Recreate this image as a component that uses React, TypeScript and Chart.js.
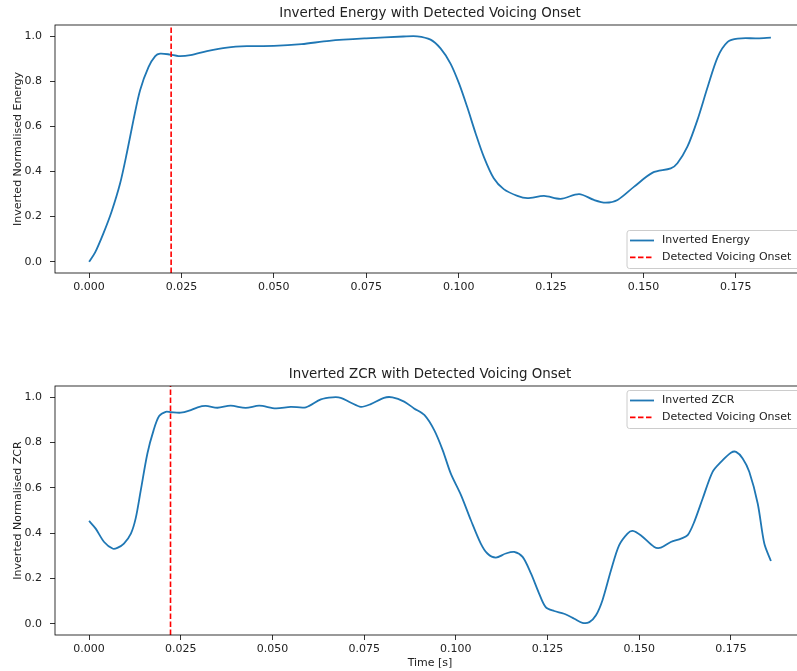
import React, { useEffect, useRef } from 'react';
import { Chart, registerables } from 'chart.js';

Chart.register(...registerables);

// ---------- data ----------
const energyTime = [0.0000, 0.0016, 0.0039, 0.0061, 0.0084, 0.0102, 0.0120, 0.0138, 0.0161, 0.0179, 0.0192, 0.0219, 0.0242, 0.0274, 0.0319, 0.0373, 0.0427, 0.0500, 0.0575, 0.0650, 0.0750, 0.0850, 0.0888, 0.0924, 0.0951, 0.0978, 0.1001, 0.1023, 0.1046, 0.1068, 0.1095, 0.1122, 0.1159, 0.1186, 0.1231, 0.1276, 0.1326, 0.1366, 0.1398, 0.1430, 0.1475, 0.1525, 0.1574, 0.1592, 0.1619, 0.1646, 0.1674, 0.1701, 0.1728, 0.1755, 0.1809, 0.1845];
const energyValues = [0.000, 0.040, 0.127, 0.223, 0.348, 0.481, 0.628, 0.761, 0.864, 0.912, 0.923, 0.919, 0.912, 0.916, 0.934, 0.950, 0.956, 0.957, 0.965, 0.980, 0.991, 0.999, 1.000, 0.985, 0.946, 0.879, 0.791, 0.687, 0.569, 0.466, 0.370, 0.322, 0.292, 0.282, 0.292, 0.279, 0.300, 0.274, 0.262, 0.274, 0.333, 0.395, 0.414, 0.437, 0.510, 0.628, 0.776, 0.908, 0.975, 0.990, 0.991, 0.994];

const zcrTime = [0.0000, 0.0018, 0.0041, 0.0064, 0.0077, 0.0095, 0.0114, 0.0127, 0.0141, 0.0159, 0.0176, 0.0191, 0.0209, 0.0223, 0.0250, 0.0273, 0.0296, 0.0318, 0.0350, 0.0386, 0.0427, 0.0464, 0.0509, 0.0550, 0.0591, 0.0632, 0.0664, 0.0686, 0.0714, 0.0741, 0.0768, 0.0804, 0.0827, 0.0859, 0.0886, 0.0914, 0.0941, 0.0964, 0.0986, 0.1014, 0.1041, 0.1068, 0.1086, 0.1109, 0.1136, 0.1159, 0.1182, 0.1205, 0.1227, 0.1245, 0.1268, 0.1295, 0.1323, 0.1345, 0.1364, 0.1382, 0.1400, 0.1423, 0.1445, 0.1468, 0.1482, 0.1504, 0.1541, 0.1559, 0.1586, 0.1614, 0.1632, 0.1650, 0.1673, 0.1700, 0.1723, 0.1750, 0.1764, 0.1782, 0.1800, 0.1823, 0.1841, 0.1859];
const zcrValues = [0.454, 0.420, 0.361, 0.332, 0.335, 0.354, 0.398, 0.465, 0.590, 0.752, 0.855, 0.917, 0.936, 0.934, 0.932, 0.941, 0.956, 0.962, 0.954, 0.963, 0.953, 0.963, 0.951, 0.958, 0.956, 0.991, 1.000, 0.998, 0.976, 0.958, 0.970, 0.998, 1.000, 0.981, 0.951, 0.922, 0.855, 0.767, 0.664, 0.568, 0.457, 0.354, 0.310, 0.292, 0.310, 0.317, 0.295, 0.221, 0.133, 0.073, 0.056, 0.044, 0.022, 0.004, 0.007, 0.037, 0.105, 0.236, 0.346, 0.398, 0.410, 0.391, 0.339, 0.336, 0.361, 0.376, 0.391, 0.450, 0.553, 0.671, 0.715, 0.755, 0.759, 0.730, 0.671, 0.531, 0.354, 0.277];

const onsetTime = 0.0222;
const xTicks = [0, 0.025, 0.05, 0.075, 0.1, 0.125, 0.15, 0.175];
const yTicks = [0, 0.2, 0.4, 0.6, 0.8, 1.0];

const BLUE = '#1f77b4';
const RED = '#ff0000';
const TEXT = '#222222';
const FONT = "'DejaVu Sans', sans-serif";
const CANVAS_W = 830;
const FS = 11;
const TITLE_FS = 13.4;

// ---------- decoration plugin (frame, title, legend) ----------
const decorPlugin = {
  id: 'mplDecor',
  afterDraw(chart: any, _args: any, opts: any) {
    const { ctx, chartArea: a } = chart;
    ctx.save();
    // frame (spines)
    ctx.strokeStyle = '#000';
    ctx.lineWidth = 0.8;
    ctx.strokeRect(a.left, a.top, a.right - a.left, a.bottom - a.top);
    // title
    ctx.fillStyle = TEXT;
    ctx.font = `${TITLE_FS}px ${FONT}`;
    ctx.textAlign = 'center';
    ctx.textBaseline = 'middle';
    ctx.fillText(opts.title, (a.left + a.right) / 2, a.top - 11);
    // legend
    const items = opts.legend as { label: string; color: string; dash: number[] }[];
    const w = 173;
    const h = 38;
    const x1 = a.right - 5 - w;
    const y1 = opts.legendPos === 'upper' ? a.top + 4.5 : a.bottom - 4.5 - h;
    ctx.beginPath();
    (ctx as any).roundRect(x1, y1, w, h, 2.5);
    ctx.fillStyle = 'rgba(255,255,255,0.8)';
    ctx.fill();
    ctx.strokeStyle = '#cccccc';
    ctx.lineWidth = 1;
    ctx.stroke();
    ctx.font = `${FS}px ${FONT}`;
    ctx.textAlign = 'left';
    items.forEach((it, i) => {
      const yy = y1 + 10 + i * 16.8;
      ctx.beginPath();
      ctx.setLineDash(it.dash);
      ctx.strokeStyle = it.color;
      ctx.lineWidth = 1.8;
      ctx.moveTo(x1 + 3, yy);
      ctx.lineTo(x1 + 27, yy);
      ctx.stroke();
      ctx.setLineDash([]);
      ctx.fillStyle = TEXT;
      ctx.fillText(it.label, x1 + 35, yy);
    });
    ctx.restore();
  },
};

type PanelProps = {
  times: number[];
  values: number[];
  seriesLabel: string;
  title: string;
  yLabel: string;
  xLabel?: string;
  legendPos: 'upper' | 'lower';
  height: number;
  padTop: number;
  padBottom: number;
  xAxisHeight: number;
};

function Panel(p: PanelProps) {
  const ref = useRef<HTMLCanvasElement | null>(null);
  useEffect(() => {
    if (!ref.current) return;
    const last = p.times[p.times.length - 1];
    const xMin = -0.05 * last;
    const xMax = last * 1.05;
    const pts = p.times.map((t, i) => ({ x: t, y: p.values[i] }));
    const chart = new Chart(ref.current, {
      type: 'line',
      data: {
        datasets: [
          {
            label: p.seriesLabel,
            data: pts,
            borderColor: BLUE,
            borderWidth: 1.8,
            pointRadius: 0,
            tension: 0.3,
            fill: false,
            order: 2,
          },
          {
            label: 'Detected Voicing Onset',
            data: [
              { x: onsetTime, y: -0.05 },
              { x: onsetTime, y: 1.05 },
            ],
            borderColor: RED,
            borderWidth: 1.6,
            borderDash: [5.5, 2.5],
            pointRadius: 0,
            tension: 0,
            fill: false,
            order: 1,
          },
        ],
      },
      options: {
        animation: false,
        responsive: false,
        devicePixelRatio: 1,
        layout: { padding: { top: p.padTop, right: CANVAS_W - 805, bottom: p.padBottom, left: 0 } },
        plugins: {
          legend: { display: false },
          tooltip: { enabled: false },
          title: { display: false },
          mplDecor: {
            title: p.title,
            legendPos: p.legendPos,
            legend: [
              { label: p.seriesLabel, color: BLUE, dash: [] },
              { label: 'Detected Voicing Onset', color: RED, dash: [5.5, 2.5] },
            ],
          },
        } as any,
        scales: {
          x: {
            type: 'linear',
            min: xMin,
            max: xMax,
            afterBuildTicks: (s: any) => {
              s.ticks = xTicks.map((v) => ({ value: v }));
            },
            afterFit: (s: any) => {
              s.height = p.xAxisHeight;
            },
            ticks: {
              callback: (v: any) => Number(v).toFixed(3),
              font: { family: FONT, size: FS },
              color: TEXT,
              maxRotation: 0,
              autoSkip: false,
              padding: 2.5,
            },
            grid: { drawOnChartArea: false, drawTicks: true, tickLength: 5, color: '#000', lineWidth: 0.8 },
            border: { display: false },
            title: {
              display: !!p.xLabel,
              text: p.xLabel || '',
              font: { family: FONT, size: FS },
              color: TEXT,
              padding: { top: 0, bottom: 1.5 },
            },
          },
          y: {
            type: 'linear',
            min: -0.05,
            max: 1.05,
            afterBuildTicks: (s: any) => {
              s.ticks = yTicks.map((v) => ({ value: v }));
            },
            afterFit: (s: any) => {
              s.width = 55;
            },
            ticks: {
              callback: (v: any) => Number(v).toFixed(1),
              font: { family: FONT, size: FS },
              color: TEXT,
              padding: 8,
            },
            grid: { drawOnChartArea: false, drawTicks: true, tickLength: 5, color: '#000', lineWidth: 0.8 },
            border: { display: false },
            title: {
              display: true,
              text: p.yLabel,
              font: { family: FONT, size: FS },
              color: TEXT,
              padding: { top: 11.5, bottom: 0 },
            },
          },
        },
      },
      plugins: [decorPlugin as any],
    });
    return () => chart.destroy();
  }, []);
  return <canvas ref={ref} width={CANVAS_W} height={p.height} style={{ display: 'block', width: CANVAS_W, height: p.height }} />;
}

export default function App() {
  return (
    <div style={{ position: 'absolute', left: 0, top: 0, width: 797, height: 671, overflow: 'hidden', background: '#fff' }}>
      <div style={{ position: 'absolute', left: 0, top: 0 }}>
        <Panel
          times={energyTime}
          values={energyValues}
          seriesLabel="Inverted Energy"
          title="Inverted Energy with Detected Voicing Onset"
          yLabel="Inverted Normalised Energy"
          legendPos="lower"
          height={335}
          padTop={25}
          padBottom={335 - 273 - 30}
          xAxisHeight={30}
        />
      </div>
      <div style={{ position: 'absolute', left: 0, top: 335 }}>
        <Panel
          times={zcrTime}
          values={zcrValues}
          seriesLabel="Inverted ZCR"
          title="Inverted ZCR with Detected Voicing Onset"
          yLabel="Inverted Normalised ZCR"
          xLabel="Time [s]"
          legendPos="upper"
          height={336}
          padTop={51}
          padBottom={0}
          xAxisHeight={36}
        />
      </div>
    </div>
  );
}
